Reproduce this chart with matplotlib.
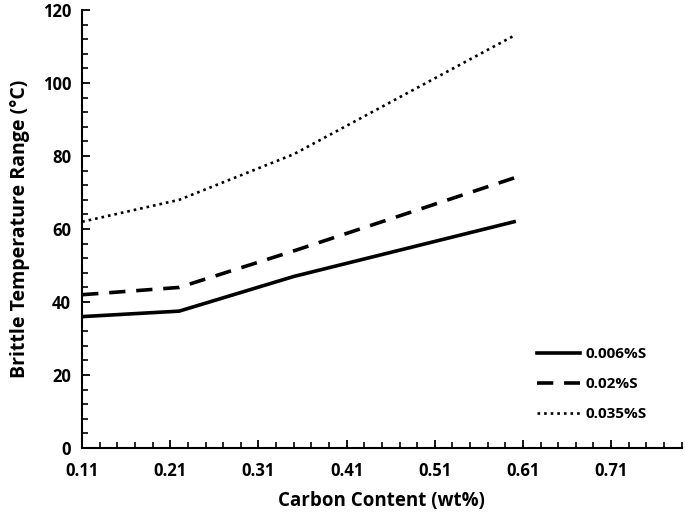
import numpy as np
import matplotlib
matplotlib.use('Agg')
import matplotlib.pyplot as plt
from matplotlib.ticker import MultipleLocator, FixedLocator

plt.rcParams['font.family'] = ['Open Sans', 'DejaVu Sans']

# Datos
carbon = [0.11, 0.22, 0.35, 0.60]
s_0006 = [36, 37.5, 47, 62]
s_002 = [42, 44, 54, 74]
s_0035 = [62, 68, 80.5, 113]
labels = ['0.006%S', '0.02%S', '0.035%S']
xticks = [0.11, 0.21, 0.31, 0.41, 0.51, 0.61, 0.71]

fig = plt.figure(figsize=(6.85, 5.17), dpi=100)
ax = fig.add_axes([0.12, 0.1335, 0.875, 0.847])

ax.plot(carbon, s_0006, color='black', lw=2.6, ls='-', label=labels[0])
ax.plot(carbon, s_002, color='black', lw=2.6, ls=(0, (4.5, 3)), label=labels[1])
ax.plot(carbon, s_0035, color='black', lw=1.9, ls=(0, (1, 1.5)), label=labels[2])

ax.set_xlim(0.11, 0.79)
ax.set_ylim(0, 120)
ax.xaxis.set_major_locator(FixedLocator(xticks))
ax.xaxis.set_minor_locator(FixedLocator(np.arange(0.11, 0.80, 0.02)))
ax.yaxis.set_major_locator(MultipleLocator(20))
ax.yaxis.set_minor_locator(MultipleLocator(4))
ax.set_xticklabels([f'{t:.2f}' for t in xticks])

for s in ['top', 'right']:
    ax.spines[s].set_visible(False)
for s in ['left', 'bottom']:
    ax.spines[s].set_linewidth(1.5)

ax.tick_params(which='major', direction='in', length=6, width=1.3,
               labelsize=12, pad=10)
ax.tick_params(which='minor', direction='in', length=4, width=1.2)
for lbl in ax.get_xticklabels() + ax.get_yticklabels():
    lbl.set_fontweight('bold')
ax.tick_params(axis='y', pad=8)

ax.set_xlabel('Carbon Content (wt%)', fontsize=13.5, fontweight='bold', labelpad=8)
ax.set_ylabel('Brittle Temperature Range (°C)', fontsize=14, fontweight='bold', labelpad=9)

leg = ax.legend(loc='lower right', bbox_to_anchor=(0.965, 0.03), frameon=False,
                prop={'size': 11, 'weight': 'bold'},
                handlelength=2.8, handletextpad=0.35, labelspacing=1.05)

plt.savefig('out.png', dpi=100)
